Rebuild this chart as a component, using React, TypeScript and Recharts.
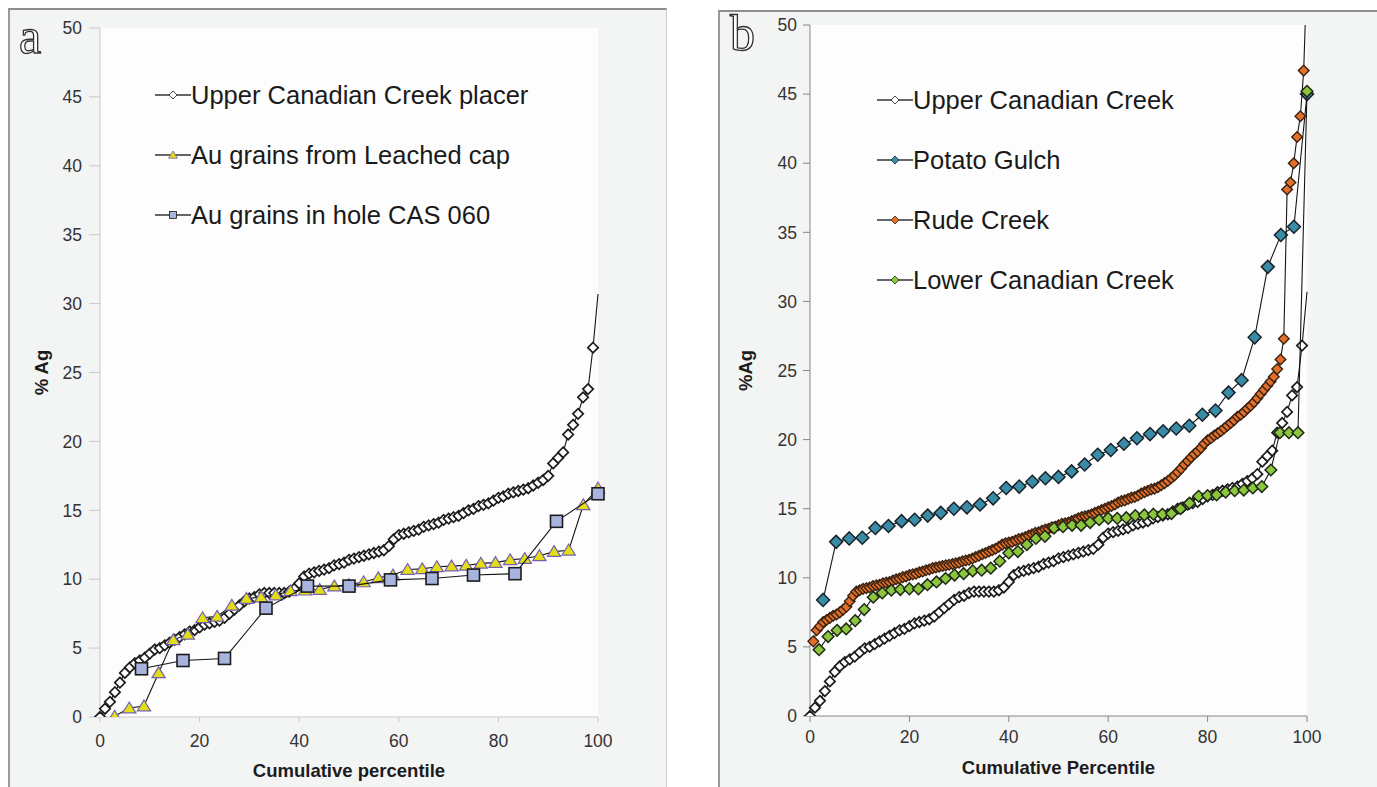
import React from "react";
import { ScatterChart, Scatter, XAxis, YAxis, Legend, Label, CartesianGrid } from "recharts";

const FONT = '"Liberation Sans", Arial, sans-serif';

// axis ticks
const percentTicks = [0, 20, 40, 60, 80, 100];
const agTicks = [0, 5, 10, 15, 20, 25, 30, 35, 40, 45, 50];

// % Ag, sorted, one value per grain
const upperCanadian = [
  0, 0.6, 1.1, 1.8, 2.5, 3.2, 3.6, 3.9, 4.1, 4.3,
  4.6, 4.9, 5.0, 5.2, 5.4, 5.6, 5.8, 6.0, 6.2, 6.3,
  6.5, 6.7, 6.8, 6.9, 7.0, 7.2, 7.5, 7.8, 8.1, 8.4,
  8.6, 8.7, 8.9, 9.0, 9.0, 9.0, 9.0, 9.0, 9.1, 9.3,
  9.7, 10.2, 10.4, 10.5, 10.6, 10.7, 10.8, 11.0, 11.1, 11.2,
  11.4, 11.5, 11.6, 11.7, 11.8, 11.9, 12.0, 12.1, 12.4, 12.9,
  13.2, 13.3, 13.4, 13.5, 13.6, 13.8, 13.9, 14.0, 14.1, 14.3,
  14.4, 14.5, 14.6, 14.8, 15.0, 15.1, 15.3, 15.4, 15.5, 15.7,
  15.9, 16.0, 16.2, 16.3, 16.4, 16.5, 16.6, 16.8, 17.0, 17.2,
  17.5, 18.4, 18.8, 19.2, 20.5, 21.2, 22.0, 23.2, 23.8, 26.8,
  30.7,
];

const leachedCap = [
  0.05, 0.65, 0.8, 3.2, 5.6, 6.0, 7.2, 7.3, 8.1, 8.6,
  8.7, 8.85, 9.15, 9.2, 9.25, 9.5, 9.6, 9.8, 10.1, 10.3,
  10.7, 10.75, 10.9, 10.95, 11.0, 11.15, 11.2, 11.4, 11.5, 11.7,
  12.0, 12.1, 15.4, 16.6,
];

const cas060 = [3.5, 4.1, 4.25, 7.9, 9.5, 9.5, 9.95, 10.05, 10.3, 10.4, 14.2, 16.2];

const potatoGulch = [
  8.4, 12.6, 12.85, 12.9, 13.6, 13.75, 14.1, 14.2, 14.5, 14.7,
  15.0, 15.1, 15.3, 15.75, 16.5, 16.6, 16.95, 17.2, 17.3, 17.7,
  18.2, 18.9, 19.25, 19.7, 20.1, 20.4, 20.6, 20.8, 21.0, 21.8,
  22.1, 23.4, 24.3, 27.4, 32.5, 34.8, 35.4, 45.0,
];

const rudeCreek = [
  5.4, 6.2, 6.5, 6.8, 6.95, 7.1, 7.25, 7.35, 7.5, 7.7,
  7.9, 8.3, 8.7, 9.0, 9.1, 9.2, 9.25, 9.3, 9.4, 9.45,
  9.5, 9.6, 9.65, 9.7, 9.8, 9.9, 9.95, 10.05, 10.1, 10.2,
  10.25, 10.3, 10.4, 10.45, 10.55, 10.6, 10.7, 10.75, 10.8, 10.85,
  10.9, 10.95, 11.0, 11.05, 11.1, 11.2, 11.25, 11.3, 11.4, 11.5,
  11.6, 11.7, 11.8, 11.9, 12.0, 12.1, 12.25, 12.4, 12.5, 12.55,
  12.6, 12.7, 12.8, 12.85, 12.95, 13.05, 13.15, 13.25, 13.3, 13.4,
  13.5, 13.55, 13.65, 13.7, 13.8, 13.9, 13.95, 14.0, 14.1, 14.2,
  14.3, 14.4, 14.45, 14.5, 14.6, 14.7, 14.8, 14.9, 15.0, 15.1,
  15.2, 15.3, 15.45, 15.55, 15.6, 15.7, 15.8, 15.85, 15.95, 16.1,
  16.2, 16.3, 16.4, 16.45, 16.55, 16.7, 16.85, 17.0, 17.2, 17.4,
  17.65, 17.9, 18.2, 18.45, 18.7, 18.95, 19.15, 19.4, 19.7, 19.95,
  20.1, 20.3, 20.45, 20.6, 20.8, 21.0, 21.2, 21.4, 21.65, 21.8,
  22.0, 22.25, 22.45, 22.7, 23.0, 23.3, 23.6, 23.9, 24.2, 24.55,
  25.1, 25.8, 27.3, 38.1, 38.6, 40.0, 41.9, 43.4, 46.7, 54,
];

const lowerCanadian = [
  4.8, 5.75, 6.2, 6.3, 6.9, 7.7, 8.6, 8.9, 9.1, 9.15,
  9.2, 9.2, 9.5, 9.7, 9.95, 10.2, 10.3, 10.5, 10.55, 10.7,
  11.2, 11.8, 11.9, 12.4, 12.85, 13.0, 13.6, 13.7, 13.8, 13.8,
  14.0, 14.2, 14.3, 14.3, 14.35, 14.5, 14.55, 14.6, 14.6, 14.65,
  15.0, 15.4, 15.9, 15.95, 16.0, 16.2, 16.3, 16.35, 16.5, 16.6,
  17.8, 20.5, 20.5, 20.5, 45.2,
];

type Kind = "diamond" | "triangle" | "square";
interface MarkStyle {
  kind: Kind;
  r: number;
  fill: string;
  stroke: string;
  sw?: number;
}
interface Series {
  name: string;
  values: number[];
  mark: MarkStyle;
  inclusive?: boolean; // percentile runs 0..100 instead of k/n
  bareLast?: boolean; // last point drawn without a marker
}

// cumulative percentile from rank
const toPoints = (s: Series) =>
  s.values.map((y, i) => ({
    x: s.inclusive ? (i / (s.values.length - 1)) * 100 : ((i + 1) / s.values.length) * 100,
    y,
    last: i === s.values.length - 1,
  }));

const Mark = ({ cx, cy, s }: { cx: number; cy: number; s: MarkStyle }) => {
  const { kind, r, fill, stroke, sw = 1 } = s;
  if (kind === "square")
    return <rect x={cx - r} y={cy - r} width={r * 2} height={r * 2} fill={fill} stroke={stroke} strokeWidth={sw} />;
  const pts =
    kind === "diamond"
      ? [[cx, cy - r], [cx + r, cy], [cx, cy + r], [cx - r, cy]]
      : [[cx, cy - r], [cx + r * 1.1, cy + r * 0.8], [cx - r * 1.1, cy + r * 0.8]];
  return <polygon points={pts.map((p) => p.join(",")).join(" ")} fill={fill} stroke={stroke} strokeWidth={sw} />;
};

const shapeOf = (s: Series) => (props: any) => {
  const { cx, cy, payload } = props;
  if (cx == null || cy == null || (s.bareLast && payload?.last)) return <g />;
  return <Mark cx={cx} cy={cy} s={s.mark} />;
};

const panelA: Series[] = [
  {
    name: "Upper Canadian Creek placer",
    values: upperCanadian,
    inclusive: true,
    bareLast: true,
    mark: { kind: "diamond", r: 5.2, fill: "#ffffff", stroke: "#1c1c1c", sw: 1.7 },
  },
  {
    name: "Au grains from Leached cap",
    values: leachedCap,
    mark: { kind: "triangle", r: 6, fill: "#e2de16", stroke: "#7560b0", sw: 1.2 },
  },
  {
    name: "Au grains in hole CAS 060",
    values: cas060,
    mark: { kind: "square", r: 6, fill: "#a9b4de", stroke: "#1c1c1c", sw: 1.6 },
  },
];

const panelB: Series[] = [
  {
    name: "Upper Canadian Creek",
    values: upperCanadian,
    inclusive: true,
    bareLast: true,
    mark: { kind: "diamond", r: 5.2, fill: "#ffffff", stroke: "#1c1c1c", sw: 1.7 },
  },
  {
    name: "Potato Gulch",
    values: potatoGulch,
    mark: { kind: "diamond", r: 6.5, fill: "#3a8ca6", stroke: "#18242a", sw: 1.5 },
  },
  {
    name: "Rude Creek",
    values: rudeCreek,
    mark: { kind: "diamond", r: 5.3, fill: "#e2702a", stroke: "#3a2212", sw: 1.4 },
  },
  {
    name: "Lower Canadian Creek",
    values: lowerCanadian,
    mark: { kind: "diamond", r: 5.8, fill: "#8cc63f", stroke: "#1e2a16", sw: 1.5 },
  },
];

const LegendList = ({ items }: { items: Series[] }) => (
  <div style={{ fontFamily: FONT }}>
    {items.map((it) => (
      <div key={it.name} style={{ display: "flex", alignItems: "center", height: 60 }}>
        <svg width={36} height={16} style={{ flex: "none" }}>
          <line x1={0} y1={8} x2={36} y2={8} stroke="#333" strokeWidth={1.4} />
          <Mark cx={18} cy={8} s={{ ...it.mark, r: it.mark.kind === "square" ? 3.5 : 4, sw: 0.8 }} />
        </svg>
        <span style={{ fontSize: 25.5, color: "#1a1a1a", whiteSpace: "nowrap" }}>{it.name}</span>
      </div>
    ))}
  </div>
);

interface PanelProps {
  series: Series[];
  width: number;
  plot: { left: number; right: number; top: number; bottom: number };
  axisColor: string;
  yTick: { size: number; margin: number };
  xTick: { size: number; margin: number };
  xTitle: string;
  xTitleOffset: number;
  yTitle: string;
  yTitleX: number;
  legendPos: { left: number; top: number };
}

const HEIGHT = 787;

const Panel = (p: PanelProps) => {
  const { plot } = p;
  const midX = (plot.left + plot.right) / 2;
  const midY = (plot.top + plot.bottom) / 2;
  const tickStyle = { fill: "#333333", fontSize: 17.5, fontFamily: FONT };
  return (
    <ScatterChart
      width={p.width}
      height={HEIGHT}
      margin={{ top: plot.top, right: p.width - plot.right, bottom: 0, left: 0 }}
    >
      <CartesianGrid horizontal={false} vertical={false} fill="#fdfdfd" />
      <XAxis
        type="number"
        dataKey="x"
        domain={[0, 100]}
        ticks={percentTicks}
        interval={0}
        height={HEIGHT - plot.bottom}
        stroke={p.axisColor}
        tickSize={p.xTick.size}
        tickMargin={p.xTick.margin}
        tick={tickStyle}
      >
        <Label
          content={() => (
            <text
              x={midX}
              y={plot.bottom + p.xTitleOffset}
              textAnchor="middle"
              dominantBaseline="central"
              style={{ fontFamily: FONT, fontWeight: 700, fontSize: 18.5, fill: "#1c1c1c" }}
            >
              {p.xTitle}
            </text>
          )}
        />
      </XAxis>
      <YAxis
        type="number"
        dataKey="y"
        domain={[0, 50]}
        ticks={agTicks}
        interval={0}
        allowDataOverflow
        width={plot.left}
        stroke={p.axisColor}
        tickSize={p.yTick.size}
        tickMargin={p.yTick.margin}
        tick={tickStyle}
      >
        <Label
          content={() => (
            <text
              x={p.yTitleX}
              y={midY}
              textAnchor="middle"
              dominantBaseline="central"
              transform={`rotate(-90 ${p.yTitleX} ${midY})`}
              style={{ fontFamily: FONT, fontWeight: 700, fontSize: 18.5, fill: "#1c1c1c" }}
            >
              {p.yTitle}
            </text>
          )}
        />
      </YAxis>
      <Legend
        layout="vertical"
        align="center"
        verticalAlign="middle"
        wrapperStyle={{ left: p.legendPos.left, top: p.legendPos.top, width: 460 }}
        content={() => <LegendList items={p.series} />}
      />
      {p.series.map((s) => (
        <Scatter
          key={s.name}
          name={s.name}
          data={toPoints(s)}
          shape={shapeOf(s)}
          line={{ stroke: "#151515", strokeWidth: 1.1 }}
          lineType="joint"
          isAnimationActive={false}
        />
      ))}
    </ScatterChart>
  );
};

const letterStyle: React.CSSProperties = {
  position: "absolute",
  fontFamily: '"Liberation Serif", "DejaVu Serif", serif',
  fontSize: 50,
  lineHeight: "50px",
  color: "#ffffff",
  WebkitTextStroke: "1.3px #333333",
};

export default function App() {
  return (
    <div
      style={{
        position: "absolute",
        left: 0,
        top: 0,
        width: 1377,
        height: HEIGHT,
        background: "#ffffff",
        overflow: "hidden",
      }}
    >
      <div
        style={{
          position: "absolute",
          left: 8,
          top: 8,
          width: 656,
          height: 800,
          borderTop: "2px solid #8e8e8e",
          borderLeft: "2px solid #9a9a9a",
          borderRight: "1px solid #cfcfcf",
          background: "#f3f4f4",
        }}
      />
      <div
        style={{
          position: "absolute",
          left: 718,
          top: 10,
          width: 680,
          height: 800,
          borderTop: "2px solid #8e8e8e",
          borderLeft: "2px solid #9a9a9a",
          background: "#f3f4f4",
        }}
      />
      <div style={{ position: "absolute", left: 0, top: 0 }}>
        <Panel
          series={panelA}
          width={666}
          plot={{ left: 100, right: 598, top: 28, bottom: 717 }}
          axisColor="#cdc6c6"
          yTick={{ size: 11, margin: 7 }}
          xTick={{ size: 5, margin: 13 }}
          xTitle="Cumulative percentile"
          xTitleOffset={53}
          yTitle="% Ag"
          yTitleX={41}
          legendPos={{ left: 155, top: 65 }}
        />
      </div>
      <div style={{ position: "absolute", left: 718, top: 0 }}>
        <Panel
          series={panelB}
          width={659}
          plot={{ left: 92, right: 589, top: 25, bottom: 716 }}
          axisColor="#868686"
          yTick={{ size: 7, margin: 6 }}
          xTick={{ size: 6, margin: 9 }}
          xTitle="Cumulative Percentile"
          xTitleOffset={51}
          yTitle="%Ag"
          yTitleX={27}
          legendPos={{ left: 159, top: 70 }}
        />
      </div>
      <span style={{ ...letterStyle, left: 19, top: 11 }}>a</span>
      <span style={{ ...letterStyle, left: 730, top: 8 }}>b</span>
    </div>
  );
}
